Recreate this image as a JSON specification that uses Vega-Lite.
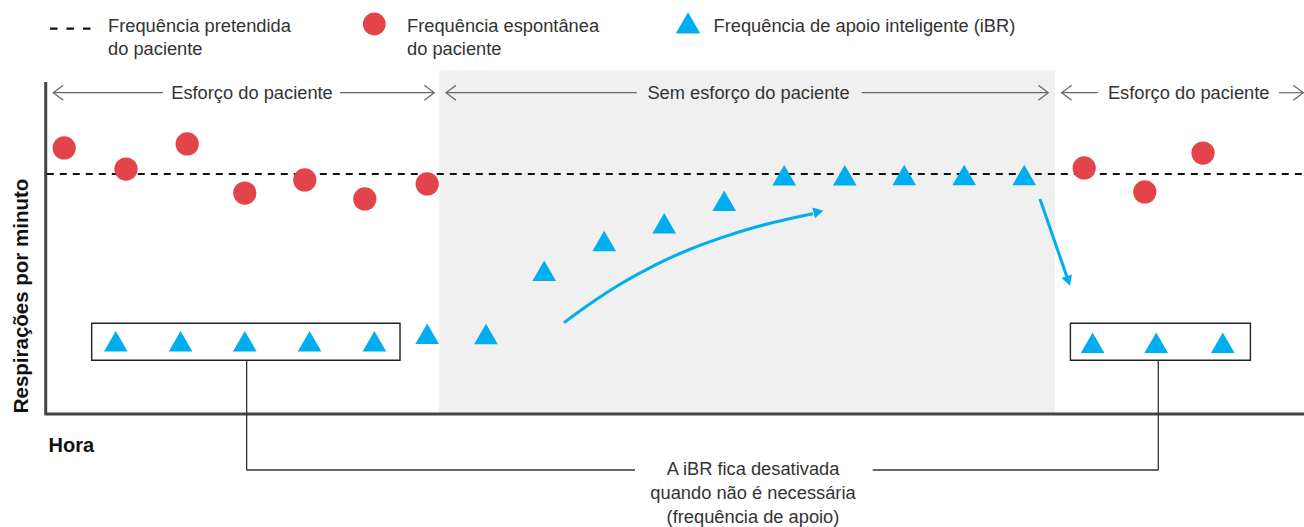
{
  "$schema": "https://vega.github.io/schema/vega-lite/v6.json",
  "width": 1304,
  "height": 527,
  "autosize": "none",
  "padding": 0,
  "background": "white",
  "config": {"view": {"stroke": null}},
  "datasets": {
    "espontanea": [
      {"hora": 0.02, "resp": 16.63}, {"hora": 1.05, "resp": 15.31}, {"hora": 2.07, "resp": 16.88},
      {"hora": 3.03, "resp": 13.81}, {"hora": 4.03, "resp": 14.63}, {"hora": 5.03, "resp": 13.44},
      {"hora": 6.07, "resp": 14.38}, {"hora": 17.02, "resp": 15.38}, {"hora": 18.03, "resp": 13.88},
      {"hora": 19.0, "resp": 16.31}
    ],
    "ibr": [
      {"hora": 0.88, "resp": 4.55}, {"hora": 1.96, "resp": 4.55}, {"hora": 3.03, "resp": 4.55},
      {"hora": 4.11, "resp": 4.55}, {"hora": 5.19, "resp": 4.55},
      {"hora": 6.07, "resp": 5.02}, {"hora": 7.05, "resp": 5.0}, {"hora": 8.02, "resp": 8.96},
      {"hora": 9.02, "resp": 10.81}, {"hora": 10.02, "resp": 11.92}, {"hora": 11.02, "resp": 13.33},
      {"hora": 12.02, "resp": 14.92}, {"hora": 13.03, "resp": 14.92}, {"hora": 14.02, "resp": 14.94},
      {"hora": 15.02, "resp": 14.94}, {"hora": 16.02, "resp": 14.94},
      {"hora": 17.16, "resp": 4.46}, {"hora": 18.22, "resp": 4.46}, {"hora": 19.33, "resp": 4.46}
    ],
    "alvo": [{"hora": -0.27, "hora2": 20.7, "resp": 15.0, "resp2": 15.0}],
    "regiao": [{"hora": 6.267, "hora2": 16.533, "resp": 0, "resp2": 21.47}],
    "eixos": [
      {"hora": -0.288, "hora2": -0.288, "resp": 20.75, "resp2": -0.08},
      {"hora": -0.288, "hora2": 20.7, "resp": 0, "resp2": 0}
    ],
    "caixas": [
      {"hora": 0.478, "hora2": 5.617, "resp": 5.67, "resp2": 3.36},
      {"hora": 16.79, "hora2": 19.79, "resp": 5.67, "resp2": 3.36}
    ],
    "chaves": [
      {"hora": 3.061, "hora2": 3.061, "resp": 3.36, "resp2": -3.5},
      {"hora": 3.061, "hora2": 9.533, "resp": -3.5, "resp2": -3.5},
      {"hora": 13.495, "hora2": 18.255, "resp": -3.5, "resp2": -3.5},
      {"hora": 18.255, "hora2": 18.255, "resp": 3.36, "resp2": -3.5}
    ],
    "setas_fases": [
      {"hora": -0.162, "hora2": 1.667, "resp": 20.08, "resp2": 20.08},
      {"hora": 4.617, "hora2": 6.188, "resp": 20.08, "resp2": 20.08},
      {"hora": 6.383, "hora2": 9.562, "resp": 20.08, "resp2": 20.08},
      {"hora": 13.312, "hora2": 16.422, "resp": 20.08, "resp2": 20.08},
      {"hora": 16.645, "hora2": 17.245, "resp": 20.08, "resp2": 20.08},
      {"hora": 20.267, "hora2": 20.672, "resp": 20.08, "resp2": 20.08}
    ],
    "pontas": [
      {"hora": -0.162, "resp": 20.08, "dir": "esq"},
      {"hora": 6.188, "resp": 20.08, "dir": "dir"},
      {"hora": 6.383, "resp": 20.08, "dir": "esq"},
      {"hora": 16.422, "resp": 20.08, "dir": "dir"},
      {"hora": 16.645, "resp": 20.08, "dir": "esq"},
      {"hora": 20.672, "resp": 20.08, "dir": "dir"}
    ],
    "curva": [
      {"hora": 8.35, "resp": 5.71}, {"hora": 8.755, "resp": 6.81}, {"hora": 9.312, "resp": 8.17},
      {"hora": 9.867, "resp": 9.31}, {"hora": 10.422, "resp": 10.25}, {"hora": 10.978, "resp": 11.02},
      {"hora": 11.533, "resp": 11.67}, {"hora": 12.088, "resp": 12.19}, {"hora": 12.5, "resp": 12.52}
    ],
    "reta": [{"hora": 16.283, "resp": 13.44}, {"hora": 16.75, "resp": 8.375}],
    "cabeca_curva": [{"hora": 12.672, "resp": 12.71}],
    "cabeca_reta": [{"hora": 16.783, "resp": 8.02}],
    "fases": [
      {"hora": 3.15, "resp": 19.69, "label": "Esforço do paciente"},
      {"hora": 11.425, "resp": 19.69, "label": "Sem esforço do paciente"},
      {"hora": 18.762, "resp": 19.69, "label": "Esforço do paciente"}
    ],
    "legenda_texto": [
      {"hora": 0.75, "resp": 23.86, "label": "Frequência pretendida"},
      {"hora": 0.75, "resp": 22.44, "label": "do paciente"},
      {"hora": 5.733, "resp": 23.86, "label": "Frequência espontânea"},
      {"hora": 5.733, "resp": 22.44, "label": "do paciente"},
      {"hora": 10.842, "resp": 23.86, "label": "Frequência de apoio inteligente (iBR)"}
    ],
    "legenda_traco": [{"hora": -0.217, "hora2": 0.483, "resp": 24.08, "resp2": 24.08}],
    "legenda_circulo": [{"hora": 5.188, "resp": 24.375}],
    "legenda_triangulo": [{"hora": 10.417, "resp": 24.44}],
    "nota": [
      {"hora": 11.5, "resp": -3.8, "label": "A iBR fica desativada"},
      {"hora": 11.5, "resp": -5.34, "label": "quando não é necessária"},
      {"hora": 11.5, "resp": -6.84, "label": "(frequência de apoio)"}
    ],
    "titulo_y": [{"hora": -0.59, "resp": 7.375, "label": "Respirações por minuto"}],
    "titulo_x": [{"hora": -0.242, "resp": -2.36, "label": "Hora"}]
  },
  "encoding": {
    "x": {"field": "hora", "type": "quantitative", "scale": {"domain": [-1.05, 20.68333], "nice": false, "zero": false}, "axis": null},
    "y": {"field": "resp", "type": "quantitative", "scale": {"domain": [-7.0625, 25.875], "nice": false, "zero": false}, "axis": null}
  },
  "layer": [
    {"data": {"name": "regiao"}, "mark": {"type": "rect", "color": "#f0f0f0"},
     "encoding": {"x2": {"field": "hora2"}, "y2": {"field": "resp2"}}},
    {"data": {"name": "eixos"}, "mark": {"type": "rule", "color": "#444444", "strokeWidth": 3},
     "encoding": {"x2": {"field": "hora2"}, "y2": {"field": "resp2"}}},
    {"data": {"name": "alvo"}, "mark": {"type": "rule", "color": "#111111", "strokeWidth": 2, "strokeDash": [7, 6]},
     "encoding": {"x2": {"field": "hora2"}, "y2": {"field": "resp2"}}},
    {"data": {"name": "caixas"}, "mark": {"type": "rect", "filled": false, "color": "#222222", "strokeWidth": 1.4},
     "encoding": {"x2": {"field": "hora2"}, "y2": {"field": "resp2"}}},
    {"data": {"name": "chaves"}, "mark": {"type": "rule", "color": "#333333", "strokeWidth": 1.3},
     "encoding": {"x2": {"field": "hora2"}, "y2": {"field": "resp2"}}},
    {"data": {"name": "setas_fases"}, "mark": {"type": "rule", "color": "#666666", "strokeWidth": 1.2},
     "encoding": {"x2": {"field": "hora2"}, "y2": {"field": "resp2"}}},
    {"data": {"name": "pontas"}, "transform": [{"filter": "datum.dir === 'esq'"}],
     "mark": {"type": "point", "shape": "M1.33,-1L0,0L1.33,1", "filled": false, "color": "#666666", "strokeWidth": 1.2, "size": 225, "opacity": 1}},
    {"data": {"name": "pontas"}, "transform": [{"filter": "datum.dir === 'dir'"}],
     "mark": {"type": "point", "shape": "M-1.33,-1L0,0L-1.33,1", "filled": false, "color": "#666666", "strokeWidth": 1.2, "size": 225, "opacity": 1}},
    {"data": {"name": "curva"}, "mark": {"type": "line", "color": "#00aeef", "strokeWidth": 3, "interpolate": "monotone"}},
    {"data": {"name": "reta"}, "mark": {"type": "line", "color": "#00aeef", "strokeWidth": 3}},
    {"data": {"name": "cabeca_curva"}, "mark": {"type": "point", "shape": "M0,0L-1,1.8L1,1.8Z", "filled": true, "color": "#00aeef", "size": 121, "angle": 77, "opacity": 1, "strokeWidth": 0}},
    {"data": {"name": "cabeca_reta"}, "mark": {"type": "point", "shape": "M0,0L-1,1.8L1,1.8Z", "filled": true, "color": "#00aeef", "size": 121, "angle": 161, "opacity": 1, "strokeWidth": 0}},
    {"data": {"name": "ibr"}, "mark": {"type": "point", "shape": "triangle-up", "filled": true, "color": "#00aeef", "size": 560, "opacity": 1, "strokeWidth": 0}},
    {"data": {"name": "espontanea"}, "mark": {"type": "point", "shape": "circle", "filled": true, "color": "#e3444a", "size": 540, "opacity": 1, "strokeWidth": 0}},
    {"data": {"name": "legenda_traco"}, "mark": {"type": "rule", "color": "#111111", "strokeWidth": 2.3, "strokeDash": [7.5, 9]},
     "encoding": {"x2": {"field": "hora2"}, "y2": {"field": "resp2"}}},
    {"data": {"name": "legenda_circulo"}, "mark": {"type": "point", "shape": "circle", "filled": true, "color": "#e3444a", "size": 520, "opacity": 1, "strokeWidth": 0}},
    {"data": {"name": "legenda_triangulo"}, "mark": {"type": "point", "shape": "triangle-up", "filled": true, "color": "#00aeef", "size": 600, "opacity": 1, "strokeWidth": 0}},
    {"data": {"name": "fases"}, "mark": {"type": "text", "align": "center", "baseline": "alphabetic", "font": "Liberation Sans", "fontSize": 18.3, "color": "#333333"},
     "encoding": {"text": {"field": "label"}}},
    {"data": {"name": "legenda_texto"}, "mark": {"type": "text", "align": "left", "baseline": "alphabetic", "font": "Liberation Sans", "fontSize": 18.3, "color": "#333333"},
     "encoding": {"text": {"field": "label"}}},
    {"data": {"name": "nota"}, "mark": {"type": "text", "align": "center", "baseline": "alphabetic", "font": "Liberation Sans", "fontSize": 18.3, "color": "#333333"},
     "encoding": {"text": {"field": "label"}}},
    {"data": {"name": "titulo_y"}, "mark": {"type": "text", "align": "center", "baseline": "alphabetic", "angle": 270, "font": "Liberation Sans", "fontWeight": "bold", "fontSize": 20.5, "color": "#111111"},
     "encoding": {"text": {"field": "label"}}},
    {"data": {"name": "titulo_x"}, "mark": {"type": "text", "align": "left", "baseline": "alphabetic", "font": "Liberation Sans", "fontWeight": "bold", "fontSize": 20, "color": "#111111"},
     "encoding": {"text": {"field": "label"}}}
  ]
}
